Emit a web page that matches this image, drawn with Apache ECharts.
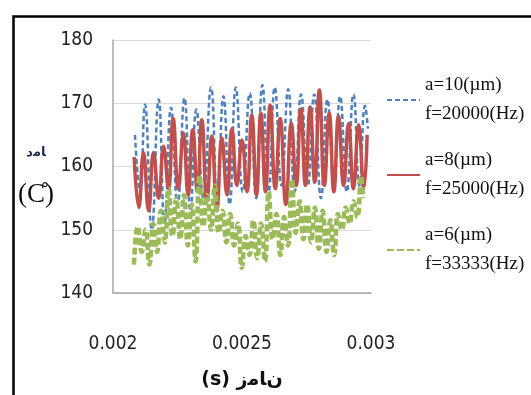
<!DOCTYPE html>
<html>
<head>
<meta charset="utf-8">
<script src="https://cdn.jsdelivr.net/npm/echarts@6/dist/echarts.min.js"></script>
<style>
html,body{margin:0;padding:0;background:#fff;}
#chart{width:531px;height:395px;}
</style>
</head>
<body>
<div id="chart"></div>
<script>
// ---- Data ----
const xTickLabels = ['0.002', '0.0025', '0.003'];
const yTickLabels = ['140', '150', '160', '170', '180'];

const seriesNames = [
  'a=10(\u00b5m)\nf=20000(Hz)',
  'a=8(\u00b5m)\nf=25000(Hz)',
  'a=6(\u00b5m)\nf=33333(Hz)'
];

// Axis titles (Persian, written with Arabic presentation forms in display order)
const xAxisTitle = '(s) \uFEE5\uFE8E\uFEE3\uFEAF';   // زمان (s)
const yAxisTitleTop = '\uFE8E\uFEE3\uFEA9';           // دما
const yAxisTitleUnit = '(C\u030a)';

// a=10 µm, f=20000 Hz (blue dashed)
const blueT = [0.002085,0.002105,0.002124,0.00215,0.002177,0.0022,0.002225,0.00225,0.002277,0.0023,
  0.002323,0.00235,0.00238,0.002404,0.002428,0.002452,0.002476,0.002503,0.00253,0.002555,
  0.002579,0.002603,0.002627,0.002653,0.002679,0.002704,0.002729,0.002755,0.00278,0.002806,
  0.002831,0.002856,0.00288,0.002906,0.002932,0.002955,0.002977,0.002988];
const blueV = [165,156,169.8,150,170.6,151,169.3,154,170.8,153,
  169,155,172.5,155,171.1,154,172.5,156,171.6,155,
  172.9,156,172.5,157,172.2,156,171.4,157,171.4,155,
  170.6,157,171.1,156,171.4,157,169.6,166];

// a=8 µm, f=25000 Hz (red solid)
const redT = [0.002082,0.0021,0.002118,0.002138,0.002157,0.002177,0.002196,0.002215,0.002233,0.002253,
  0.002273,0.002291,0.002309,0.002327,0.002344,0.002364,0.002383,0.002402,0.002422,0.002442,
  0.002461,0.00248,0.0025,0.002519,0.002538,0.002556,0.002573,0.002591,0.002609,0.002629,
  0.002648,0.00267,0.002691,0.00271,0.002728,0.002746,0.002764,0.002782,0.0028,0.002819,
  0.002838,0.002856,0.002874,0.002894,0.002913,0.002932,0.002952,0.002972,0.002985];
const redV = [161.5,153.5,162.2,153,162.2,155,163.2,156.5,167.6,156.5,
  165.3,155.5,165.8,156,167.4,154.5,164.8,153,164.5,155.5,
  166,157,164.2,156,168.1,155.5,168.4,156,169.7,156.5,
  167.6,154,166.8,157,169.1,157,169.4,157.5,172.1,157,
  168.4,156,167.9,157,166.8,156.5,166.6,156.5,165];

// a=6 µm, f=33333 Hz (green dashed)
const greenT = [0.0020814,0.0020961,0.0021112,0.002126,0.0021411,0.0021558,0.0021709,0.0021857,0.0022008,0.0022155,
  0.0022306,0.0022453,0.0022605,0.0022752,0.0022903,0.002305,0.0023202,0.0023349,0.00235,0.0023647,
  0.0023798,0.0023946,0.0024097,0.0024244,0.0024395,0.0024543,0.0024694,0.0024841,0.0024992,0.002514,
  0.0025291,0.0025438,0.0025589,0.0025736,0.0025888,0.0026035,0.0026186,0.0026333,0.0026484,0.0026632,
  0.0026783,0.002693,0.0027081,0.0027229,0.002738,0.0027527,0.0027678,0.0027826,0.0027977,0.0028124,
  0.0028275,0.0028422,0.0028574,0.0028721,0.0028872,0.0029019,0.0029171,0.0029318,0.0029469,0.0029612,
  0.002969];
const greenV = [144.5,150.5,146.5,150,144.5,151,146.5,153,148,156.5,
  149,155,148.5,155.5,147.5,154,145,158.5,150.5,155.5,
  150,157,149.5,153,148,152.5,147.5,151,144,149,
  146,151.5,145.5,151,145,156,148.5,152.5,146,152,
  147.5,158,149.5,154.5,148.5,154,148,153.5,147,153,
  146.5,151.5,146,152.5,150,153.5,151,154.5,152,158.5,
  155];

const zip = (t, v) => t.map((x, i) => [x, v[i]]);

const chart = echarts.init(document.getElementById('chart'), null, {renderer: 'canvas'});
const labelFont = "'Liberation Sans Narrow', 'DejaVu Sans Condensed', 'Liberation Sans', sans-serif";
const serifFont = "'Liberation Serif', 'DejaVu Serif', serif";

chart.setOption({
  animation: false,
  backgroundColor: '#ffffff',
  graphic: [{
    type: 'rect',
    left: 11, top: 14,
    shape: {width: 560, height: 420},
    style: {fill: 'none', stroke: '#000000', lineWidth: 2.5},
    silent: true
  }],
  grid: {left: 113, right: 160, top: 40, bottom: 97},
  legend: {
    orient: 'vertical',
    left: 381,
    top: 66,
    itemWidth: 33,
    itemHeight: 14,
    itemGap: 17,
    selectedMode: false,
    itemStyle: {opacity: 0},
    textStyle: {fontFamily: serifFont, fontSize: 19, color: '#111', lineHeight: 29},
    data: seriesNames
  },
  xAxis: {
    type: 'value',
    min: 0.002, max: 0.003, interval: 0.0005,
    name: xAxisTitle,
    nameLocation: 'middle',
    nameGap: 78,
    nameTextStyle: {fontFamily: "'DejaVu Sans', serif", fontSize: 19, fontWeight: 'bold', color: '#111'},
    axisLine: {show: true, lineStyle: {color: '#a6a6a6', width: 1.5}},
    axisTick: {show: false},
    splitLine: {show: false},
    axisLabel: {
      margin: 42,
      fontFamily: labelFont, fontSize: 19, color: '#222',
      formatter: v => xTickLabels[Math.round((v - 0.002) / 0.0005)]
    }
  },
  yAxis: {
    type: 'value',
    min: 140, max: 180, interval: 10,
    name: '{a|' + yAxisTitleTop + '}\n{b|' + yAxisTitleUnit + '}',
    nameLocation: 'middle',
    nameRotate: 0,
    nameGap: 59,
    nameTextStyle: {
      padding: [12, 0, 0, 0],
      rich: {
        a: {fontFamily: "'DejaVu Sans', sans-serif", fontSize: 13, fontWeight: 'bold', color: '#1f2a5a', lineHeight: 44, align: 'center'},
        b: {fontFamily: serifFont, fontSize: 27, color: '#111', lineHeight: 40, align: 'center'}
      }
    },
    axisLine: {show: true, lineStyle: {color: '#a6a6a6', width: 1.5}},
    axisTick: {show: false},
    splitLine: {show: true, lineStyle: {color: '#d9d9d9', width: 1}},
    axisLabel: {
      margin: 20,
      fontFamily: labelFont, fontSize: 19, color: '#222',
      formatter: v => yTickLabels[Math.round((v - 140) / 10)]
    }
  },
  series: [
    {
      name: seriesNames[0], type: 'line', data: zip(blueT, blueV),
      symbol: 'none', smooth: 0.5,
      lineStyle: {color: '#4f81bd', width: 2.5, type: [5, 3]},
      itemStyle: {color: '#4f81bd'}
    },
    {
      name: seriesNames[1], type: 'line', data: zip(redT, redV),
      symbol: 'none', smooth: 0.5,
      lineStyle: {color: '#c0504d', width: 3.5, type: 'solid'},
      itemStyle: {color: '#c0504d'}
    },
    {
      name: seriesNames[2], type: 'line', data: zip(greenT, greenV),
      symbol: 'none', smooth: 0.5,
      lineStyle: {color: '#9bbb59', width: 4.5, type: [7, 3]},
      itemStyle: {color: '#9bbb59'}
    }
  ]
});
</script>
</body>
</html>
